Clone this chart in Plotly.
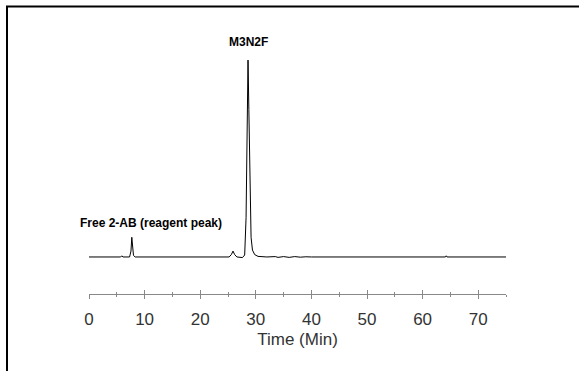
import plotly.graph_objects as go

# Chromatogram trace (time in min, relative signal)
time_min = [0, 5.7, 5.9, 6.1, 7.3, 7.55, 7.7, 7.85, 8.0, 8.3, 10, 20, 25.2, 25.6, 25.9, 26.2, 26.6,
            27.6, 28.0, 28.25, 28.45, 28.6, 28.75, 28.95, 29.15, 29.4, 29.8, 30.4, 32, 33.5, 34, 35,
            36, 37, 38, 39, 40, 50, 64.1, 64.25, 64.4, 75]
signal = [0, 0, 0.6, 0, 0, 3, 10, 4, 0.8, 0, 0, 0, 0, 1.2, 3, 1.2, 0,
          -0.3, 1.0, 20, 65, 100, 75, 30, 10, 3.5, 1.2, 0.3, 0, 0.2, -0.2, 0.2,
          -0.2, 0.2, -0.1, 0.1, 0, 0, 0, 0.6, 0, 0]

x_ticks = [0, 10, 20, 30, 40, 50, 60, 70]
peak_labels = ["M3N2F", "Free 2-AB (reagent peak)"]
peak_label_x = [28.7, 11.1]
peak_label_y = [100, 10]
peak_label_shift = [9, 5]

W, H = 579, 371
ml, mr, mt, mb = 89, 73, 40, 77
pw, ph = W - ml - mr, H - mt - mb

fig = go.Figure()
fig.add_trace(go.Scatter(x=time_min, y=signal, mode="lines",
                         line=dict(color="black", width=1), hoverinfo="skip",
                         showlegend=False))
# overlay axis for the inner half of the ticks
fig.add_trace(go.Scatter(x=[0, 75], y=[None, None], xaxis="x2", yaxis="y",
                         mode="lines", showlegend=False, hoverinfo="skip"))

axis_font = dict(family="Liberation Sans, Arial, sans-serif", size=17, color="#333")
fig.update_layout(
    width=W, height=H,
    margin=dict(l=ml, r=mr, t=mt, b=mb),
    plot_bgcolor="white", paper_bgcolor="white",
    xaxis=dict(range=[0, 75], tickvals=x_ticks, ticks="outside", ticklen=4,
               tickcolor="#888", tickwidth=1, showline=True, linecolor="#888",
               linewidth=1, showgrid=False, zeroline=False, tickfont=axis_font,
               ticklabelstandoff=6,
               minor=dict(dtick=5, tick0=5, ticks="outside", ticklen=2,
                          tickcolor="#888", showgrid=False),
               title=dict(text="Time (Min)", font=axis_font, standoff=4)),
    xaxis2=dict(range=[0, 75], overlaying="x", side="bottom", tickvals=x_ticks,
                ticks="inside", ticklen=4, tickcolor="#888", showticklabels=False,
                showgrid=False, zeroline=False, showline=False,
                minor=dict(dtick=5, tick0=5, ticks="inside", ticklen=2,
                           tickcolor="#888", showgrid=False)),
    yaxis=dict(range=[-18.8, 110.2], visible=False, fixedrange=True),
)

for txt, xv, yv, ys in zip(peak_labels, peak_label_x, peak_label_y, peak_label_shift):
    fig.add_annotation(x=xv, y=yv, text="<b>" + txt + "</b>", showarrow=False,
                       yanchor="bottom", yshift=ys,
                       font=dict(family="Liberation Sans, Arial, sans-serif",
                                 size=12, color="black"))

# figure border (top and left only, as in reference)
px = lambda p: (p - ml) / pw
py = lambda p: (H - mb - p) / ph
fig.add_shape(type="line", xref="paper", yref="paper", x0=px(6), x1=px(W + 5),
              y0=py(6.5), y1=py(6.5), line=dict(color="black", width=2))
fig.add_shape(type="line", xref="paper", yref="paper", x0=px(7), x1=px(7),
              y0=py(6), y1=py(H + 5), line=dict(color="black", width=2))

fig.write_html("out.html", config={"displayModeBar": False},
               post_script="document.body.style.margin='0';document.body.style.overflow='hidden';")
